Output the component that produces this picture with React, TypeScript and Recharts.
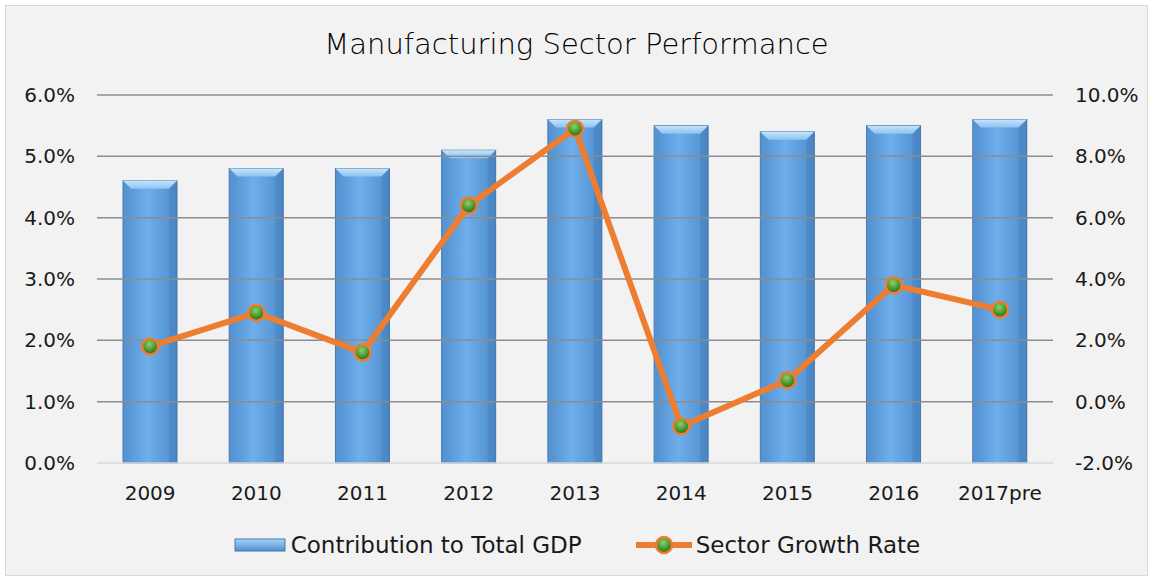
import React from 'react'
import { ComposedChart, Bar, Line, XAxis, YAxis, ReferenceLine } from 'recharts'

const years = ['2009', '2010', '2011', '2012', '2013', '2014', '2015', '2016', '2017pre']
const contribution = [4.6, 4.8, 4.8, 5.1, 5.6, 5.5, 5.4, 5.5, 5.6]
const growth = [1.8, 2.9, 1.6, 6.4, 8.9, -0.8, 0.7, 3.8, 3.0]
const leftTicks = [0, 1, 2, 3, 4, 5, 6]
const rightTicks = [-2, 0, 2, 4, 6, 8, 10]

const data = years.map((year, i) => ({ year, contribution: contribution[i], growth: growth[i] }))

const FONT = '"DejaVu Sans", sans-serif'
const pct = (v: number) => `${v.toFixed(1)}%`

function BevelBar(props: any) {
  const { x, y, width, height } = props
  if (!height || height <= 0) return null
  const b = Math.min(8, width / 4)
  return (
    <g>
      <rect x={x} y={y} width={width} height={height} fill="url(#barBody)" stroke="#4577ab" strokeWidth={1} />
      <polygon
        points={`${x},${y} ${x + width},${y} ${x + width - b},${y + b} ${x + b},${y + b}`}
        fill="url(#barTop)"
      />
      <polygon
        points={`${x},${y} ${x + b},${y + b} ${x + b},${y + height} ${x},${y + height}`}
        fill="#5a95d0"
        opacity={0.3}
      />
      <polygon
        points={`${x + width},${y} ${x + width - b},${y + b} ${x + width - b},${y + height} ${x + width},${y + height}`}
        fill="#3f78b3"
        opacity={0.35}
      />
    </g>
  )
}

function GreenDot(props: any) {
  const { cx, cy } = props
  if (cx == null || cy == null) return null
  return <circle cx={cx} cy={cy} r={8} fill="url(#greenBall)" stroke="#ed7d31" strokeWidth={2.5} />
}

export default function App() {
  return (
    <div style={{ position: 'relative', width: 1153, height: 581, background: '#fff' }}>
      <style>{`body{margin:0}`}</style>
      <div
        style={{
          position: 'absolute',
          left: 5,
          top: 5,
          width: 1141,
          height: 569,
          border: '1px solid #d9d9d9',
          background: '#f2f2f2',
        }}
      />
      <div
        style={{
          position: 'absolute',
          top: 27,
          left: 0,
          width: 1153,
          textAlign: 'center',
          fontFamily: FONT,
          fontSize: 29,
          fontWeight: 300,
          color: '#000',
        }}
      >
        Manufacturing Sector Performance
      </div>
      <div style={{ position: 'absolute', left: 0, top: 0 }}>
        <ComposedChart
          width={1153}
          height={581}
          data={data}
          margin={{ top: 95, right: 0, bottom: 0, left: 0 }}
        >
          <defs>
            <linearGradient id="barBody" x1="0" y1="0" x2="1" y2="0">
              <stop offset="0%" stopColor="#5190d0" />
              <stop offset="45%" stopColor="#6eaeea" />
              <stop offset="100%" stopColor="#4f8dcc" />
            </linearGradient>
            <linearGradient id="barTop" x1="0" y1="0" x2="0" y2="1">
              <stop offset="0%" stopColor="#c6e4fb" />
              <stop offset="100%" stopColor="#8cc3f1" />
            </linearGradient>
            <radialGradient id="greenBall" cx="45%" cy="35%" r="60%">
              <stop offset="0%" stopColor="#8fd06a" />
              <stop offset="60%" stopColor="#4e9a34" />
              <stop offset="100%" stopColor="#2f6e1e" />
            </radialGradient>
          </defs>
          <XAxis
            dataKey="year"
            height={118}
            tickSize={0}
            tickMargin={23}
            axisLine={{ stroke: '#d9d9d9', strokeWidth: 1.5 }}
            tickLine={false}
            tick={{ fill: '#1a1a1a', fontSize: 20, fontFamily: FONT }}
          />
          <YAxis
            yAxisId="left"
            orientation="left"
            width={97}
            domain={[0, 6]}
            ticks={leftTicks}
            tickFormatter={pct}
            tickSize={0}
            tickMargin={22}
            axisLine={false}
            tickLine={false}
            tick={{ fill: '#1a1a1a', fontSize: 20, fontFamily: FONT }}
          />
          <YAxis
            yAxisId="right"
            orientation="right"
            width={100}
            domain={[-2, 10]}
            ticks={rightTicks}
            tickFormatter={pct}
            tickSize={0}
            tickMargin={22}
            axisLine={false}
            tickLine={false}
            tick={{ fill: '#1a1a1a', fontSize: 20, fontFamily: FONT, textAnchor: 'start' }}
          />
          {leftTicks.slice(1).map((t) => (
            <ReferenceLine key={t} yAxisId="left" y={t} stroke="#8c8c8c" strokeWidth={1.5} />
          ))}
          <Bar
            yAxisId="left"
            dataKey="contribution"
            name="Contribution to Total GDP"
            barSize={54}
            shape={(p: any) => <BevelBar {...p} />}
            isAnimationActive={false}
          />
          <Line
            yAxisId="right"
            dataKey="growth"
            name="Sector Growth Rate"
            type="linear"
            stroke="#ed7d31"
            strokeWidth={6}
            dot={(p: any) => <GreenDot key={p.index} {...p} />}
            activeDot={false}
            isAnimationActive={false}
          />
        </ComposedChart>
      </div>
      <div
        style={{
          position: 'absolute',
          top: 532,
          left: 0,
          width: 1153,
          display: 'flex',
          justifyContent: 'center',
          alignItems: 'center',
          fontFamily: FONT,
          fontSize: 23,
          color: '#1a1a1a',
        }}
      >
        <svg width={58} height={26}>
          <defs>
            <linearGradient id="legendBar" x1="0" y1="0" x2="0" y2="1">
              <stop offset="0%" stopColor="#a9d4f6" />
              <stop offset="100%" stopColor="#4f8dcc" />
            </linearGradient>
            <radialGradient id="legendBall" cx="45%" cy="35%" r="60%">
              <stop offset="0%" stopColor="#8fd06a" />
              <stop offset="60%" stopColor="#4e9a34" />
              <stop offset="100%" stopColor="#2f6e1e" />
            </radialGradient>
          </defs>
          <rect x={2} y={7} width={50} height={12} fill="url(#legendBar)" stroke="#4577ab" strokeWidth={1} />
        </svg>
        <span style={{ marginRight: 52 }}>Contribution to Total GDP</span>
        <svg width={62} height={26}>
          <line x1={2} y1={13} x2={58} y2={13} stroke="#ed7d31" strokeWidth={6} />
          <circle cx={30} cy={13} r={8} fill="url(#legendBall)" stroke="#ed7d31" strokeWidth={2.5} />
        </svg>
        <span>Sector Growth Rate</span>
      </div>
    </div>
  )
}
